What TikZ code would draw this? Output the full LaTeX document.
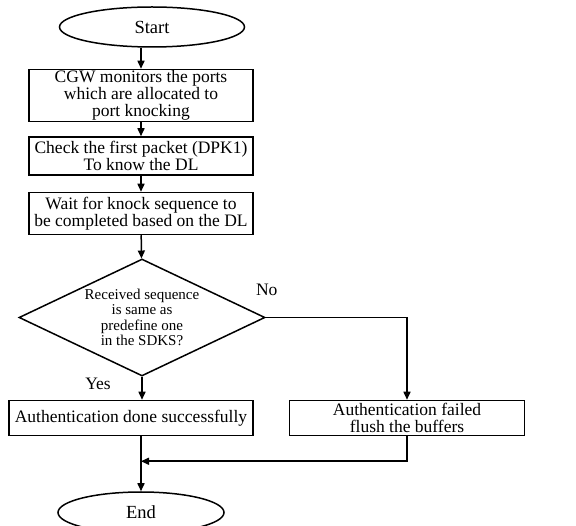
\documentclass[tikz,border=0pt]{standalone}
\usepackage{fontspec}
\setmainfont{Liberation Serif}
\usetikzlibrary{positioning,arrows.meta,shapes.geometric,calc}

\begin{document}
\begin{tikzpicture}[
  x=1pt, y=1pt, >={Triangle[length=8pt,width=7pt]}, line width=1.5pt,
  font=\fontsize{17.5}{17}\selectfont,
  term/.style={ellipse, draw, minimum width=185pt, minimum height=40pt, inner sep=0pt,
               font=\fontsize{18.5}{18}\selectfont},
  pbox/.style={rectangle, draw, align=center, minimum width=224pt, inner xsep=2pt, inner ysep=1pt},
  dec/.style={diamond, draw, aspect=2.1, align=center, minimum width=246pt,
              minimum height=117pt, inner sep=0pt, font=\fontsize{15}{15.5}\selectfont},
  lbl/.style={inner sep=0pt},
]
\fill[white] (0,0) rectangle (576,-526);
\useasboundingbox (0,0) rectangle (576,-526);

% ---------- Main column ----------
\node[term] (start) at (152,-27) {Start};
\node[pbox, minimum height=52pt, below=21pt of start, xshift=-11pt] (mon) {CGW monitors the ports\\ which are allocated to\\ port knocking};
\node[pbox, minimum height=38pt, below=14pt of mon] (chk) {Check the first packet (DPK1)\\ To know the DL};
\node[pbox, minimum height=42pt, below=16pt of chk] (wait) {Wait for knock sequence to\\ be completed based on the DL};
\node[dec, below=23pt of wait, xshift=1pt] (same) {Received sequence\\ is same as\\ predefine one\\ in the SDKS?};

% ---------- Two outcomes ----------
\node[pbox, minimum width=244pt, minimum height=35pt, below=23pt of same, xshift=-11pt] (ok) {Authentication done successfully};
\node[pbox, minimum width=235pt, minimum height=35pt, right=35pt of ok] (fail) {Authentication failed\\ flush the buffers};
\node[term, minimum width=166pt, minimum height=41pt, below=55pt of ok, xshift=10pt] (stop) {End};

\node[lbl] (no) at ([xshift=1pt,yshift=28pt]same.east) {No};
\node[lbl] (yes) at ([xshift=-44pt,yshift=-7pt]same.south) {Yes};

\draw[->] (start.south -| mon.north) -- (mon.north);
\draw[->] (mon) -- (chk);
\draw[->] (chk) -- (wait);
\draw[->] (wait) -- (same);
\draw[->] (same.south) -- (same.south |- ok.north);
\draw[->] (same.east) -| (fail.north);
% failed branch joins the main line above End
\coordinate (join) at ($(stop.north)+(0,30pt)$);
\draw[->] (fail.south) |- (join);
\draw[->] (ok.south -| stop.north) -- (stop.north);

\end{tikzpicture}
\end{document}
